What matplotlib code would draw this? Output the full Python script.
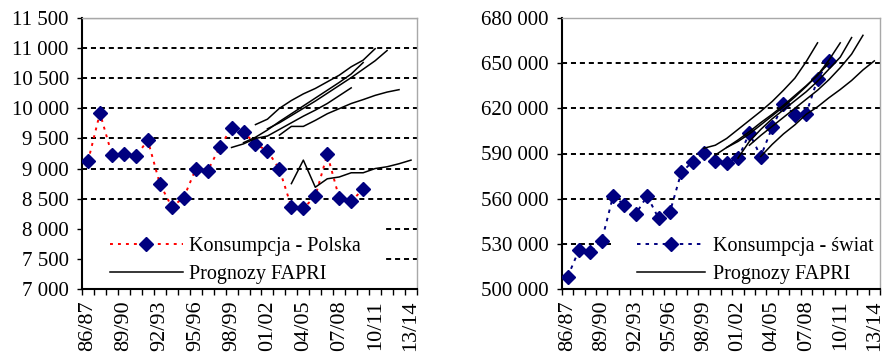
import matplotlib.pyplot as plt
from matplotlib.patches import Rectangle
from matplotlib.lines import Line2D

plt.rcParams['font.family'] = ['Liberation Serif', 'DejaVu Serif']

# season labels (x categories)
seasons = ["86/87", "87/88", "88/89", "89/90", "90/91", "91/92", "92/93",
           "93/94", "94/95", "95/96", "96/97", "97/98", "98/99", "99/00",
           "00/01", "01/02", "02/03", "03/04", "04/05", "05/06", "06/07",
           "07/08", "08/09", "09/10", "10/11", "11/12", "12/13", "13/14"]

# consumption, Poland (thousand t)
pl_consumption = [9120, 9920, 9230, 9250, 9205, 9470, 8750, 8365, 8515, 8990,
                  8960, 9350, 9675, 9610, 9405, 9295, 8990, 8365, 8340, 8540,
                  9235, 8510, 8455, 8660]

# FAPRI projections for Poland: first season index + values
pl_fapri_start = [12, 13, 14, 15, 16, 17]
pl_fapri = [
    [9350, 9410, 9500, 9540, 9650, 9760, 9870, 9970, 10080, 10210, 10340],
    [9430, 9520, 9640, 9780, 9910, 10040, 10170, 10300, 10430, 10570, 10760],
    [9730, 9820, 10000, 10130, 10240, 10330, 10440, 10550, 10690, 10800, 10990],
    [9660, 9760, 9880, 10000, 10120, 10250, 10380, 10510, 10650, 10790, 10960],
    [9555, 9700, 9700, 9800, 9910, 9995, 10080, 10145, 10215, 10270, 10310],
    [8750, 9140, 8690, 8830, 8860, 8930, 8930, 9000, 9030, 9080, 9140],
]

# consumption, world (thousand t)
world_consumption = [508200, 526000, 524400, 532100, 561800, 555900, 549900,
                     561800, 547000, 551000, 577400, 584500, 590200, 585300,
                     584000, 586700, 603500, 588000, 607300, 622800, 615700,
                     616400, 639400, 651200]

# FAPRI projections for the world
world_fapri_start = [12, 13, 14, 15, 16, 17]
world_fapri = [
    [593500, 595500, 600000, 606000, 612000, 618000, 624500, 632000, 640000, 651000, 663500],
    [589000, 594000, 599000, 604500, 610500, 616000, 622000, 628500, 635000, 642000, 650000],
    [594000, 598000, 603000, 609000, 615000, 621000, 627500, 634500, 642000, 652000, 663500],
    [587000, 598000, 606000, 613000, 619000, 625000, 631000, 638000, 646000, 654000, 667000],
    [595500, 602000, 608000, 614000, 620000, 626000, 632000, 639000, 647000, 656000, 668500],
    [588000, 596000, 603000, 609000, 616000, 621000, 627000, 632500, 638500, 645500, 651500],
]

pl_yticks = [7000, 7500, 8000, 8500, 9000, 9500, 10000, 10500, 11000, 11500]
world_yticks = [500000, 530000, 560000, 590000, 620000, 650000, 680000]

W, H = 885, 353
fig = plt.figure(figsize=(W / 100, H / 100), dpi=100)
ax1 = fig.add_axes([82 / W, 64 / H, 335 / W, 271 / H])
ax2 = fig.add_axes([562 / W, 64 / H, 318 / W, 271 / H])


def fmt(v):
    return f"{v:,}".replace(",", " ")


def style_axes(ax, yticks):
    n = len(seasons)
    ax.set_xlim(-0.5, n - 0.5)
    ax.set_ylim(yticks[0], yticks[-1])
    ax.set_xticks([i - 0.5 for i in range(n + 1)])
    ax.set_xticklabels([])
    ax.set_xticks(list(range(0, n, 3)), minor=True)
    ax.set_xticklabels(seasons[::3], minor=True, rotation=90, fontsize=16)
    ax.tick_params(axis='x', which='major', length=4, width=1, direction='out')
    ax.tick_params(axis='x', which='minor', length=0, pad=8)
    ax.set_yticks(yticks)
    ax.set_yticklabels([fmt(v) for v in yticks], fontsize=15)
    ax.tick_params(axis='y', length=3.5, width=1, pad=6)
    for y in yticks[1:]:
        ax.axhline(y, color='black', lw=1.4, dashes=(2.6, 2.0), zorder=1)
    for s in ['left', 'bottom']:
        ax.spines[s].set_linewidth(1.5)
    for s in ['top', 'right']:
        ax.spines[s].set_color('#a8a8a8')
        ax.spines[s].set_linewidth(1)


style_axes(ax1, pl_yticks)
style_axes(ax2, world_yticks)
ax1.axhline(pl_yticks[-1], color='#a8a8a8', lw=1, zorder=1)

x_obs = list(range(len(pl_consumption)))

# left: Poland
ax1.add_patch(Rectangle((0, 0), 0.9, 0.27, transform=ax1.transAxes,
                        facecolor='white', edgecolor='none', zorder=1.2))
ax1.plot(x_obs, pl_consumption, color='red', lw=1.4, dashes=(1.5, 2.6), zorder=2)
ax1.plot(x_obs, pl_consumption, ls='none', marker='D', ms=7,
         color='#000080', zorder=3)
for start, vals in zip(pl_fapri_start, pl_fapri):
    ax1.plot(range(start, start + len(vals)), vals, color='black', lw=1.1, zorder=4)

h1 = Line2D([], [], color='red', lw=1.4, dashes=(1.5, 2.6), marker='D', ms=7,
            markerfacecolor='#000080', markeredgecolor='#000080')
h2 = Line2D([], [], color='black', lw=1.1)
ax1.legend([h1, h2], ['Konsumpcja - Polska', 'Prognozy FAPRI'],
           loc='lower left', bbox_to_anchor=(0.084, 0.02), frameon=False,
           borderpad=0, borderaxespad=0, handlelength=3.6, handletextpad=0.3,
           labelspacing=0.4, fontsize=14.5, numpoints=1)

# right: world
ax2.add_patch(Rectangle((0.154, 0), 0.85, 0.27, transform=ax2.transAxes,
                        facecolor='white', edgecolor='none', zorder=1.2))
ax2.plot(x_obs, world_consumption, color='#000080', lw=1.4, dashes=(1.8, 2.6), zorder=2)
ax2.plot(x_obs, world_consumption, ls='none', marker='D', ms=7,
         color='#000080', zorder=3)
for start, vals in zip(world_fapri_start, world_fapri):
    ax2.plot(range(start, start + len(vals)), vals, color='black', lw=1.1, zorder=4)

h3 = Line2D([], [], color='#000080', lw=1.4, dashes=(1.8, 2.6), marker='D', ms=7)
ax2.legend([h3, h2], ['Konsumpcja - świat', 'Prognozy FAPRI'],
           loc='lower left', bbox_to_anchor=(0.235, 0.02), frameon=False,
           borderpad=0, borderaxespad=0, handlelength=3.4, handletextpad=0.4,
           labelspacing=0.4, fontsize=14.5, numpoints=1)

fig.savefig('out.png', dpi=100)
